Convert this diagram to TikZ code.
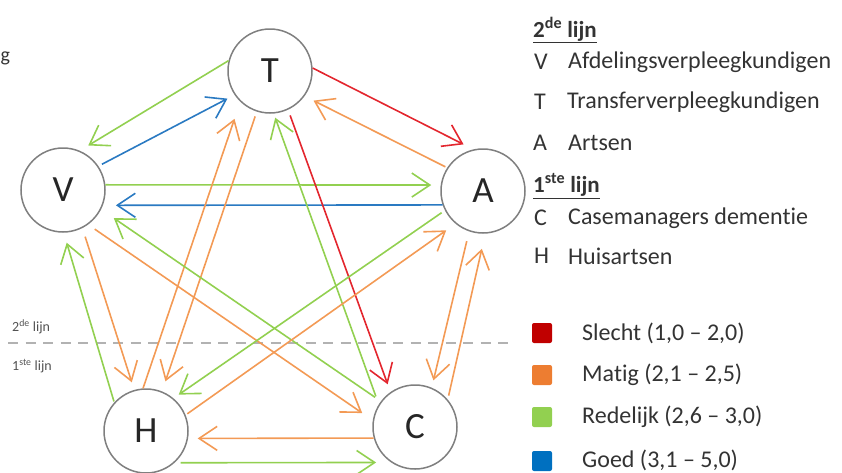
\documentclass[tikz,border=0pt]{standalone}
\usepackage{fontspec}
\setmainfont{Carlito}[Ligatures=NoCommon]
\usetikzlibrary{arrows.meta}
\definecolor{circgray}{HTML}{7F7F7F}
\definecolor{lred}{HTML}{E3262E}
\definecolor{lorange}{HTML}{F39A55}
\definecolor{lgreen}{HTML}{92D050}
\definecolor{lblue}{HTML}{2A7AC2}
\definecolor{sqred}{HTML}{C00000}
\definecolor{sqorange}{HTML}{ED7D31}
\definecolor{sqgreen}{HTML}{92D050}
\definecolor{sqblue}{HTML}{0070C0}
\definecolor{txt}{HTML}{333333}
\begin{document}
\begin{tikzpicture}[x=1pt,y=-1pt,
  person/.style={circle, draw=circgray, line width=1.5pt, minimum size=84pt, inner sep=0pt,
    font=\fontsize{37}{37}\selectfont, text=black!85},
  rel/.style={line width=1.6pt, -{Straight Barb[length=18pt,width=24pt]}},
  legtxt/.style={anchor=west, inner sep=0pt, text=txt, font=\fontsize{24}{26}\selectfont},
  leghead/.style={anchor=west, inner sep=0pt, text=txt, font=\fontsize{23}{25}\selectfont\bfseries},
  swatch/.style={minimum size=20pt, inner sep=0pt, rounded corners=2pt},
  sidelbl/.style={anchor=west, inner sep=0pt, text=txt!85, font=\fontsize{14}{15}\selectfont}]
\useasboundingbox (0,0) rectangle (842,472);

% text fragment at the left edge
\node[anchor=west, inner sep=0pt, text=txt, font=\fontsize{20}{22}\selectfont] (frag) at (0.5,58) {g};

% dashed separator
\draw[black!30, line width=2pt, dash pattern=on 10pt off 7.5pt] (8,343) -- (514,343);
\node[sidelbl] (l2) at (12,327) {2\textsuperscript{de} lijn};
\node[sidelbl] (l1) at (12,366) {1\textsuperscript{ste} lijn};

% persons
\node[person] (T) at (270,71) {T};
\node[person] (V) at (63,190) {V};
\node[person] (A) at (483,191) {A};
\node[person] (H) at (146,431) {H};
\node[person] (C) at (415,427) {C};

% connectors
\draw[rel, lgreen, shorten >=10pt] (T.166) -- (V.67);
\draw[rel, lblue, shorten <=4pt, shorten >=8pt] (V.34) -- (T.214);
\draw[rel, lgreen, shorten >=9.4pt] (V.7) -- (A.172);
\draw[rel, lblue, shorten >=13pt] (A.199.5) -- (V.339);
\draw[rel, lred, shorten >=11pt] (T.4) -- (A.103);
\draw[rel, lorange, shorten <=2pt, shorten >=10pt] (A.147) -- (T.324);
\draw[rel, lorange, shorten >=18pt] (H.94) -- (T.226);
\draw[rel, lorange, shorten <=5pt, shorten >=10.6pt] (T.252) -- (H.68);
\draw[rel, lgreen, shorten <=8.5pt, shorten >=4.4pt] (C.148) -- (T.275);
\draw[rel, lgreen, shorten <=7pt, shorten >=15.4pt] (C.143) -- (V.333);
\draw[rel, lred, shorten <=6pt, shorten >=8.2pt] (T.295) -- (C.125);
\draw[rel, lorange, shorten <=8pt, shorten >=12.8pt] (V.306) -- (C.171);
\draw[rel, lorange, shorten <=9pt, shorten >=8pt] (V.297) -- (H.106);
\draw[rel, lgreen, shorten <=1pt, shorten >=10.4pt] (H.138) -- (V.271.5);
\draw[rel, lgreen, shorten <=4pt, shorten >=6.4pt] (A.207.5) -- (H.50.5);
\draw[rel, lorange, shorten <=2pt, shorten >=11.4pt] (H.22) -- (A.230.5);
\draw[rel, lorange, shorten <=10pt, shorten >=7.5pt] (A.251.5) -- (C.67);
\draw[rel, lorange, shorten <=4pt, shorten >=15.5pt] (C.40.6) -- (A.273.4);
\draw[rel, lorange, shorten >=9.6pt] (C.195.2) -- (H.350.4);
\draw[rel, lgreen, shorten <=6pt, shorten >=15pt] (H.312.4) -- (C.236.5);

% legend: groups
\node[leghead] (h2) at (533,30) {\underline{2\textsuperscript{de} lijn}};
\node[legtxt] (kV) at (534,62) {V};
\node[legtxt] (dV) at (568,62) {Afdelingsverpleegkundigen};
\node[legtxt] (kT) at (534,102) {T};
\node[legtxt] (dT) at (567,102) {Transferverpleegkundigen};
\node[legtxt] (kA) at (533,143) {A};
\node[legtxt] (dA) at (568,143) {Artsen};
\node[leghead] (h1) at (533,186) {\underline{1\textsuperscript{ste} lijn}};
\node[legtxt] (kC) at (534,218) {C};
\node[legtxt] (dC) at (568,218) {Casemanagers dementie};
\node[legtxt] (kH) at (534,256) {H};
\node[legtxt] (dH) at (568,256) {Huisartsen};

% legend: colours
\node[swatch, fill=sqred] (s1) at (542,333) {};
\node[legtxt] (t1) at (582,333) {Slecht (1,0 -- 2,0)};
\node[swatch, fill=sqorange] (s2) at (542,375) {};
\node[legtxt] (t2) at (582,375) {Matig (2,1 -- 2,5)};
\node[swatch, fill=sqgreen] (s3) at (542,417) {};
\node[legtxt] (t3) at (582,417) {Redelijk (2,6 -- 3,0)};
\node[swatch, fill=sqblue] (s4) at (542,461) {};
\node[legtxt] (t4) at (582,460) {Goed (3,1 -- 5,0)};
\end{tikzpicture}
\end{document}
